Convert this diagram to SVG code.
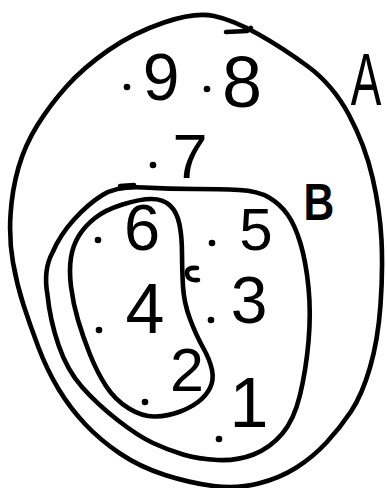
<svg xmlns="http://www.w3.org/2000/svg" width="387" height="488" viewBox="0 0 387 488">
<style>
.set{fill:none;stroke:#000;stroke-width:4.6;stroke-linecap:round;stroke-linejoin:round}
.lbl{font-family:"Liberation Sans",Arial,sans-serif;fill:#000;text-anchor:middle}
.dot{fill:#000}
</style>
<rect width="387" height="488" fill="#fff"/>
<g id="setA">
<path class="set" d="M164,22.5 Q195,12 214,16 Q233,20 258,34 Q283,48 308,66.5 Q333,85 349,115 Q365,145 372.5,177.5 Q380,210 381.5,240 Q383,270 380.5,305 Q378,340 370,367.5 Q362,395 351,411.5 Q340,428 326.5,442.5 Q313,457 296.5,467.5 Q280,478 258.5,483.5 Q237,489 213.5,486 Q190,483 165,475 Q140,467 120,453.5 Q100,440 85,424 Q70,408 58.5,389 Q47,370 38.5,347.5 Q30,325 23.5,305 Q17,285 13,262.5 Q9,240 10.5,215 Q12,190 18.5,167.5 Q25,145 37.5,125 Q50,105 66.5,86.5 Q83,68 108,50.5 Q133,33 164,22.5 Z"/>
<path class="set" d="M226,32 L247,31 Q250,30 251,28"/>
<text class="lbl" font-size="74" transform="translate(366,105) scale(0.62,1)">A</text>
</g>
<g id="setB">
<path class="set" d="M143.5,187.5 Q170,189 195,189 Q220,189 239,190 Q258,191 269,197.5 Q280,204 287.5,214.5 Q295,225 300.5,243.5 Q306,262 308.5,287.5 Q311,313 308.5,341.5 Q306,370 300,395 Q294,420 282,434 Q270,448 253.5,454.5 Q237,461 217.5,460 Q198,459 183,454.5 Q168,450 153,443 Q138,436 117.5,420 Q97,404 82,387 Q67,370 58.5,345 Q50,320 47.5,295 Q43,270 52.5,252.5 Q60,235 74,219.5 Q88,204 102.5,195 Q117,186 143.5,187.5 Z"/>
<path class="set" d="M120,186 L134,185" stroke-width="6"/>
<text class="lbl" font-size="52" font-weight="bold" transform="translate(319,220) scale(0.82,1)">B</text>
</g>
<g id="setC">
<path class="set" d="M151.5,199 Q163,199 170,205.5 Q177,212 179.5,224.5 Q182,237 182,253.5 Q182,270 183,286.5 Q184,303 190,319 Q196,335 203,347.5 Q210,360 212,370 Q214,380 210,388 Q206,396 198,402 Q190,408 179,412 Q168,416 155.5,416.5 Q143,417 129,408.5 Q115,400 106,386 Q97,372 90,354.5 Q83,337 78,320 Q73,303 71,286.5 Q69,270 71,257.5 Q73,245 79,235.5 Q85,226 95,218 Q105,210 122.5,204.5 Q140,199 151.5,199 Z"/>
<path class="set" d="M197,268 Q186,267 187,274 Q188,281 198,280" stroke-width="3.8"/>
</g>
<g id="elements">
<g id="e9"><circle class="dot" cx="127" cy="87" r="3.3"/><text class="lbl" x="161" y="100" font-size="66">9</text></g>
<g id="e8"><circle class="dot" cx="207" cy="89" r="3.3"/><text class="lbl" x="242" y="107" font-size="72">8</text></g>
<g id="e7"><circle class="dot" cx="153" cy="165" r="3.3"/><text class="lbl" x="190" y="178" font-size="63">7</text></g>
<g id="e6"><circle class="dot" cx="98" cy="240" r="3.3"/><text class="lbl" x="142" y="250" font-size="65">6</text></g>
<g id="e5"><circle class="dot" cx="212" cy="243" r="3.3"/><text class="lbl" x="256" y="250" font-size="60">5</text></g>
<g id="e4"><circle class="dot" cx="99" cy="330" r="3.3"/><text class="lbl" x="145" y="333" font-size="70">4</text></g>
<g id="e3"><circle class="dot" cx="211" cy="320" r="3.3"/><text class="lbl" x="249" y="323" font-size="66">3</text></g>
<g id="e2"><circle class="dot" cx="145" cy="402" r="3.3"/><text class="lbl" x="187" y="391" font-size="61">2</text></g>
<g id="e1"><circle class="dot" cx="219" cy="439" r="3.3"/><text class="lbl" x="249" y="427" font-size="70">1</text></g>
</g>
</svg>
